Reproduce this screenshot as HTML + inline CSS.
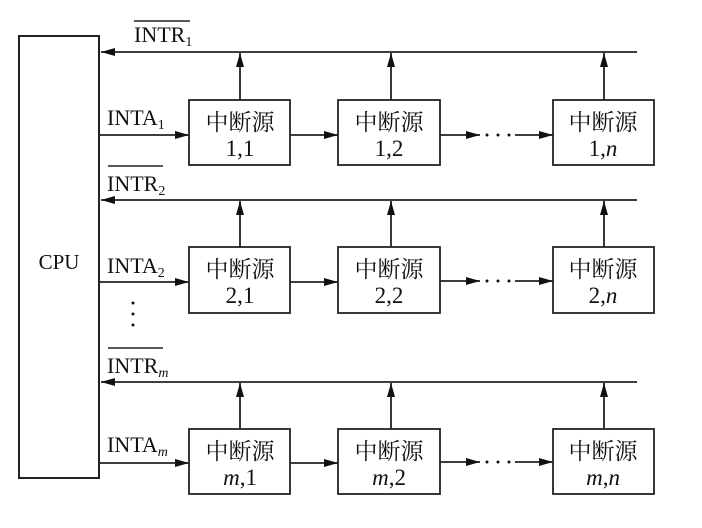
<!DOCTYPE html><html><head><meta charset="utf-8"><style>body{margin:0;background:#fff}svg text{font-family:"Liberation Serif","Noto Serif CJK SC",serif;fill:#111}</style></head><body>
<svg width="702" height="523" viewBox="0 0 702 523" xmlns="http://www.w3.org/2000/svg">
<defs><marker id="a" markerWidth="14" markerHeight="8" refX="14" refY="4" orient="auto" markerUnits="userSpaceOnUse"><path d="M0,0 L14,4 L0,8 z" fill="#111"/></marker></defs>
<g stroke="#222" stroke-width="2" fill="none">
<rect x="19" y="36" width="80" height="442"/>
</g>
<text x="59" y="269" font-size="21" text-anchor="middle">CPU</text>
<g stroke="#222" stroke-width="1.8" fill="none">
<line x1="637" y1="52" x2="101" y2="52" marker-end="url(#a)"/>
<line x1="637" y1="200" x2="101" y2="200" marker-end="url(#a)"/>
<line x1="637" y1="382" x2="101" y2="382" marker-end="url(#a)"/>
<line x1="99" y1="135" x2="189" y2="135" marker-end="url(#a)"/>
<line x1="99" y1="282" x2="189" y2="282" marker-end="url(#a)"/>
<line x1="99" y1="463" x2="189" y2="463" marker-end="url(#a)"/>
<rect x="189" y="100" width="101" height="65"/><rect x="338" y="100" width="102" height="65"/><rect x="553" y="100" width="101" height="65"/>
<rect x="189" y="247" width="101" height="66"/><rect x="338" y="247" width="102" height="66"/><rect x="553" y="247" width="101" height="66"/>
<rect x="189" y="429" width="101" height="65"/><rect x="338" y="429" width="102" height="65"/><rect x="553" y="429" width="101" height="65"/>
<line x1="240" y1="100" x2="240" y2="53" marker-end="url(#a)"/><line x1="391" y1="100" x2="391" y2="53" marker-end="url(#a)"/><line x1="604" y1="100" x2="604" y2="53" marker-end="url(#a)"/>
<line x1="240" y1="247" x2="240" y2="201" marker-end="url(#a)"/><line x1="391" y1="247" x2="391" y2="201" marker-end="url(#a)"/><line x1="604" y1="247" x2="604" y2="201" marker-end="url(#a)"/>
<line x1="240" y1="429" x2="240" y2="383" marker-end="url(#a)"/><line x1="391" y1="429" x2="391" y2="383" marker-end="url(#a)"/><line x1="604" y1="429" x2="604" y2="383" marker-end="url(#a)"/>
<line x1="290" y1="135" x2="338" y2="135" marker-end="url(#a)"/><line x1="290" y1="282" x2="338" y2="282" marker-end="url(#a)"/><line x1="290" y1="463" x2="338" y2="463" marker-end="url(#a)"/>
<line x1="440" y1="135" x2="480" y2="135" marker-end="url(#a)"/><line x1="440" y1="281" x2="480" y2="281" marker-end="url(#a)"/><line x1="440" y1="462" x2="480" y2="462" marker-end="url(#a)"/>
<line x1="515" y1="135" x2="553" y2="135" marker-end="url(#a)"/><line x1="515" y1="281" x2="553" y2="281" marker-end="url(#a)"/><line x1="515" y1="462" x2="553" y2="462" marker-end="url(#a)"/>
<line x1="134" y1="21" x2="190" y2="21" stroke-width="1.5"/><line x1="108" y1="166" x2="163" y2="166" stroke-width="1.5"/><line x1="108" y1="348" x2="163" y2="348" stroke-width="1.5"/>
</g>
<g fill="#111"><circle cx="487" cy="135" r="1.5"/><circle cx="498" cy="135" r="1.5"/><circle cx="509" cy="135" r="1.5"/>
<circle cx="487" cy="281" r="1.5"/><circle cx="498" cy="281" r="1.5"/><circle cx="509" cy="281" r="1.5"/>
<circle cx="487" cy="462" r="1.5"/><circle cx="498" cy="462" r="1.5"/><circle cx="509" cy="462" r="1.5"/>
<circle cx="133" cy="303" r="1.5"/><circle cx="133" cy="314" r="1.5"/><circle cx="133" cy="325" r="1.5"/></g>
<g font-size="22">
<text x="134" y="42">INTR<tspan font-size="14" dy="4">1</tspan></text>
<text x="107" y="125">INTA<tspan font-size="14" dy="4">1</tspan></text>
<text x="107" y="191">INTR<tspan font-size="14" dy="4">2</tspan></text>
<text x="107" y="273">INTA<tspan font-size="14" dy="4">2</tspan></text>
<text x="107" y="373">INTR<tspan font-size="14" dy="4" font-style="italic">m</tspan></text>
<text x="107" y="452">INTA<tspan font-size="14" dy="4" font-style="italic">m</tspan></text>
</g>
<g font-size="23" text-anchor="middle">
<text x="240" y="130">中断源</text><text x="240" y="156">1,1</text>
<text x="389" y="130">中断源</text><text x="389" y="156">1,2</text>
<text x="603" y="130">中断源</text><text x="603" y="156">1,<tspan font-style="italic">n</tspan></text>
<text x="240" y="277">中断源</text><text x="240" y="303">2,1</text>
<text x="389" y="277">中断源</text><text x="389" y="303">2,2</text>
<text x="603" y="277">中断源</text><text x="603" y="303">2,<tspan font-style="italic">n</tspan></text>
<text x="240" y="459">中断源</text><text x="240" y="485"><tspan font-style="italic">m</tspan>,1</text>
<text x="389" y="459">中断源</text><text x="389" y="485"><tspan font-style="italic">m</tspan>,2</text>
<text x="603" y="459">中断源</text><text x="603" y="485"><tspan font-style="italic">m</tspan>,<tspan font-style="italic">n</tspan></text>
</g>
</svg></body></html>
